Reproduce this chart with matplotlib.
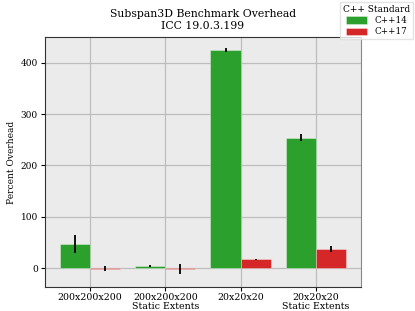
import numpy as np
import matplotlib
matplotlib.use("Agg")
import matplotlib.pyplot as plt

plt.rcParams["font.family"] = "DejaVu Serif"

categories = ["200x200x200", "200x200x200\nStatic Extents", "20x20x20", "20x20x20\nStatic Extents"]
series = ["C++14", "C++17"]
cpp14 = [47, 4, 424, 254]
cpp14_err = [18, 1, 4, 7]
cpp17 = [-1, -2, 17, 37]
cpp17_err = [5, 10, 1, 6]
colors = ["#2ca02c", "#d62728"]

fig = plt.figure(figsize=(4.15, 3.11), dpi=100)
ax = fig.add_axes([0.108, 0.077, 0.762, 0.804])
ax.set_facecolor("#ebebeb")

x = np.arange(len(categories))
w = 0.4
for i, (vals, errs) in enumerate([(cpp14, cpp14_err), (cpp17, cpp17_err)]):
    ax.bar(x + (i - 0.5) * w, vals, w, color=colors[i], edgecolor=(1, 1, 1, 0.5),
           linewidth=0.5, label=series[i], zorder=2)
    ax.errorbar(x + (i - 0.5) * w, vals, yerr=errs, fmt="none", ecolor="black",
                elinewidth=1.3, capsize=0, zorder=3)

ax.set_xlim(-0.6, 3.6)
ax.set_ylim(-37, 450)
ax.set_xticks(x)
ax.set_xticklabels(categories, fontsize=6.8, linespacing=1.0)
ax.set_yticks([0, 100, 200, 300, 400])
ax.tick_params(axis="y", labelsize=6.5, length=3, width=0.8, pad=2)
ax.tick_params(axis="x", length=3, width=0.8, pad=1.5)
ax.grid(True, color="#bdbdbd", linewidth=0.9, zorder=0)
ax.set_axisbelow(True)
ax.set_ylabel("Percent Overhead", fontsize=6.5, labelpad=3)
for s in ["top", "left", "bottom"]:
    ax.spines[s].set_color("#333333")
ax.spines["right"].set_color("#888888")
ax.set_title("Subspan3D Benchmark Overhead\nICC 19.0.3.199", fontsize=7.8, pad=6,
             linespacing=1.25)

fig.legend(loc="upper right", bbox_to_anchor=(1.0, 1.0), title="C++ Standard",
           fontsize=6.3, title_fontsize=6.5, frameon=True, fancybox=False,
           edgecolor="#dddddd", handlelength=2.4, handleheight=0.9,
           borderpad=0.35, labelspacing=0.25, borderaxespad=0.2)

fig.savefig("out.png", dpi=100)
